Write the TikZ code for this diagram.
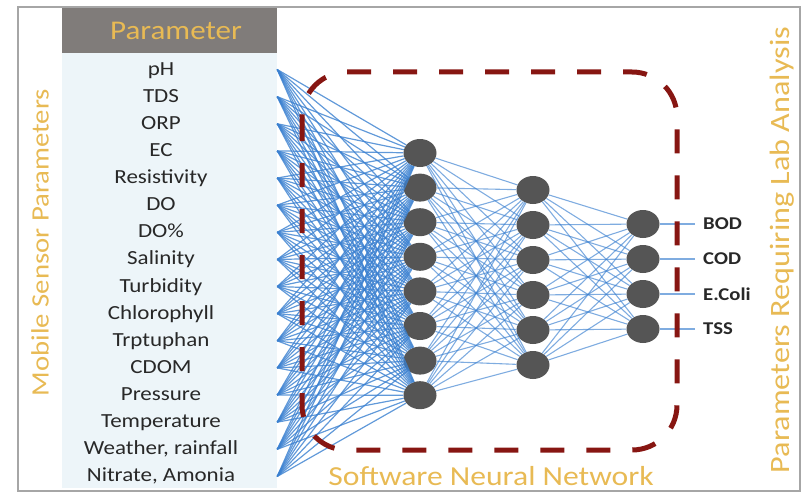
\documentclass[tikz,border=0pt]{standalone}
\usepackage{fontspec}
\setmainfont{Carlito}[FakeStretch=1.15]
\usepackage{tikz}
\usetikzlibrary{shapes.geometric}
\definecolor{headgray}{RGB}{128,124,122}
\definecolor{panelblue}{RGB}{237,245,249}
\definecolor{gold}{RGB}{232,186,84}
\definecolor{neurongray}{RGB}{85,85,85}
\definecolor{linkblue}{RGB}{58,128,208}
\definecolor{boxred}{RGB}{135,22,18}
\definecolor{textgray}{RGB}{40,40,40}

\begin{document}
\begin{tikzpicture}[x=1pt,y=-1pt,
	neuron/.style={ellipse,fill=neurongray,minimum width=33pt,minimum height=28pt,inner sep=0pt},
	link/.style={linkblue,line width=1.1pt,opacity=0.65},
	item/.style={text=textgray,font=\fontsize{20}{24}\selectfont,inner sep=0pt,text height=15pt,text depth=4pt},
	title/.style={text=gold,font=\fontsize{27}{32}\selectfont,inner sep=0pt},
	result/.style={text=textgray,font=\bfseries\fontsize{18}{22}\selectfont,anchor=west,inner sep=0pt}]
			\useasboundingbox (0,0) rectangle (803,495);
			\draw[gray!70,line width=1.2pt] (18,7) rectangle (800,491);
			\node[fill=panelblue,minimum width=215pt,minimum height=435pt,inner sep=0pt] (panel) at (169.5,270.5) {};
			\node[title,fill=headgray,minimum width=215pt,minimum height=45pt] (head) at (169.5,30.5) {\hspace*{13pt}Parameter};
			\foreach \t [count=\i] in {pH,TDS,ORP,EC,Resistivity,DO,DO\%,Salinity,Turbidity,Chlorophyll,Trptuphan,CDOM,Pressure,Temperature,{Weather, rainfall},{Nitrate, Amonia}}
				\node[item] (in\i) at (161,{69.5+27.13*(\i-1)}) {\t};
			\foreach \j in {1,...,8}
				\node[neuron] (h\j) at (420,{153+34.6*(\j-1)}) {};
			\foreach \j in {1,...,6}
				\node[neuron] (g\j) at (533,{190+35*(\j-1)}) {};
			\foreach \j/\t in {1/BOD,2/COD,3/E.Coli,4/TSS} {
				\node[neuron] (o\j) at (643,{224+35*(\j-1)}) {};
				\node[result] (r\j) at (703,{224+35*(\j-1)}) {\t};
			}
			\foreach \i in {1,...,16}
				\foreach \j in {1,...,8}
					\draw[link,line width=1.2pt,opacity=0.8] (in\i.east -| panel.east) -- (h\j);
			\foreach \i in {1,...,8}
				\foreach \j in {1,...,6}
					\draw[link] (h\i) -- (g\j);
			\foreach \i in {1,...,6}
				\foreach \j in {1,...,4}
					\draw[link] (g\i) -- (o\j);
			\foreach \j in {1,...,4}
				\draw[link,shorten >=8pt] (o\j) -- (r\j.west);
			\draw[boxred,line width=5pt,dash pattern=on 24pt off 22pt,rounded corners=45pt] (302,72) rectangle (677,450);
			\node[title,font=\fontsize{27.5}{32}\selectfont] (net) at (491,476.5) {Software Neural Network};
			\node[title,rotate=90,font=\fontsize{25}{30}\selectfont] (mobile) at (40,242.5) {Mobile Sensor Parameters};
			\node[title,rotate=90,font=\fontsize{28}{32}\selectfont] (lab) at (782,250) {Parameters Requiring Lab Analysis};
		\end{tikzpicture}
\end{document}
